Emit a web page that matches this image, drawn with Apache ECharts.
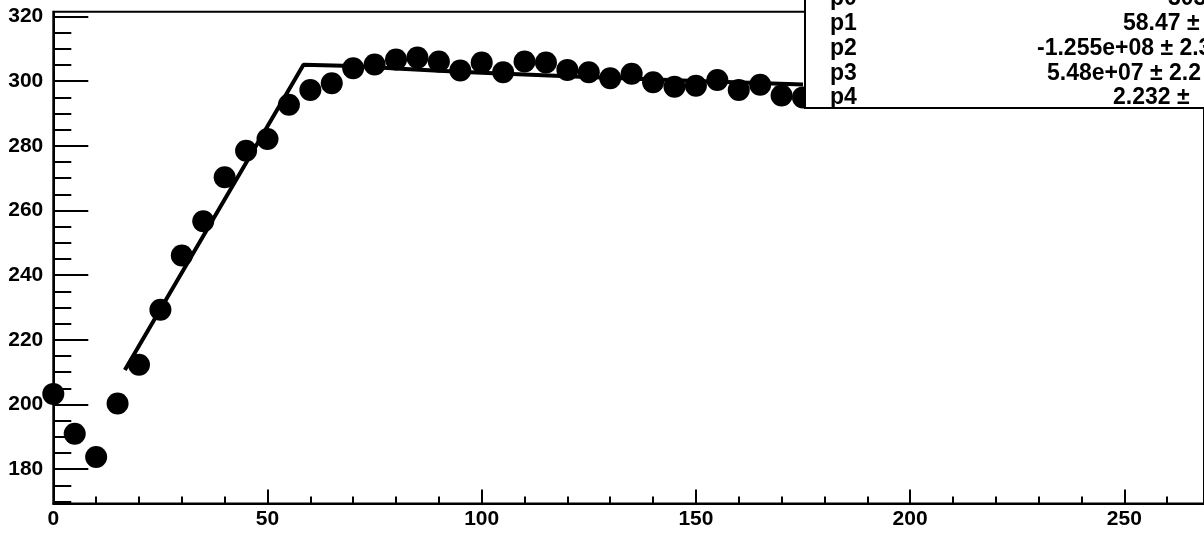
<!DOCTYPE html>
<html><head><meta charset="utf-8">
<script src="https://cdn.jsdelivr.net/npm/echarts@6/dist/echarts.min.js"></script>
<style>html,body{margin:0;padding:0;background:#fff}#c{width:1204px;height:534px}</style>
</head><body><div id="c"></div>
<script>
// measured points
const xValues = [0,5,10,15,20,25,30,35,40,45,50,55,60,65,70,75,80,85,90,95,100,105,110,115,120,125,130,135,140,145,150,155,160,165,170,175];
const yValues = [203.3,191.0,183.8,200.3,212.3,229.3,246.1,256.7,270.3,278.5,282.1,292.7,297.3,299.4,304.0,305.2,306.7,307.3,306.1,303.3,305.8,302.8,306.1,305.8,303.5,302.8,300.9,302.3,299.7,298.3,298.6,300.4,297.3,298.9,295.6,295.0];
// fitted curve
const fitX = [16.7,58.4,70,80,90,100,120,150,175];
const fitY = [210.7,305.1,304.7,303.9,303.2,302.6,301.5,300.1,299.0];
// ticks
const xMajorTicks = [0,50,100,150,200,250];
const xMinorTicks = [10,20,30,40,60,70,80,90,110,120,130,140,160,170,180,190,210,220,230,240,260];
const yMajorTicks = [180,200,220,240,260,280,300,320];
const yMinorTicks = [170,175,185,190,195,205,210,215,225,230,235,245,250,255,265,270,275,285,290,295,305,310,315];
// stats box
const statNames = ['p0','p1','p2','p3','p4'];
const statValues = ['303','58.47 \u00b1','-1.255e+08 \u00b1 2.3','5.48e+07 \u00b1 2.2','2.232 \u00b1'];

const X_MIN = 0, X_MAX = 268.6, Y_MIN = 169.4, Y_MAX = 321.5;
const FONT = 'Liberation Sans, Arial, Helvetica, sans-serif';
const gridRect = {left: 53.3, right: -2, top: 11.7, bottom: 30.5};

const chart = echarts.init(document.getElementById('c'), null, {renderer: 'canvas'});

const statValueX = [1168, 1123, 1037, 1047, 1113];
const statRowY = [-2, 23, 48, 73, 97];
const graphics = [{
  type: 'rect', z: 100,
  shape: {x: 805, y: -10, width: 420, height: 118},
  style: {fill: '#fff', stroke: '#000', lineWidth: 2}
}];
statNames.forEach((n, i) => {
  graphics.push({type: 'text', z: 101, left: 830, top: statRowY[i] - 11,
    style: {text: n, fill: '#000', font: 'bold 23px ' + FONT}});
  graphics.push({type: 'text', z: 101, left: statValueX[i], top: statRowY[i] - 11,
    style: {text: statValues[i], fill: '#000', font: 'bold 23px ' + FONT}});
});

const labelStyle = {color: '#000', fontFamily: FONT, fontWeight: 'bold', fontSize: 21};

chart.setOption({
  animation: false,
  backgroundColor: '#fff',
  grid: [
    Object.assign({show: true, borderColor: '#000', borderWidth: 2, backgroundColor: 'transparent'}, gridRect),
    Object.assign({show: false}, gridRect)
  ],
  xAxis: [
    {type: 'value', gridIndex: 0, min: X_MIN, max: X_MAX,
     axisLine: {show: true, onZero: false, lineStyle: {color: '#000', width: 2}},
     axisTick: {show: true, inside: true, length: 14, customValues: xMajorTicks, lineStyle: {color: '#000', width: 2}},
     axisLabel: Object.assign({show: true, margin: 5, customValues: xMajorTicks}, labelStyle),
     splitLine: {show: false}},
    {type: 'value', gridIndex: 1, min: X_MIN, max: X_MAX,
     axisLine: {show: false},
     axisTick: {show: true, inside: true, length: 7, customValues: xMinorTicks, lineStyle: {color: '#000', width: 2}},
     axisLabel: {show: false},
     splitLine: {show: false}}
  ],
  yAxis: [
    {type: 'value', gridIndex: 0, min: Y_MIN, max: Y_MAX,
     axisLine: {show: true, onZero: false, lineStyle: {color: '#000', width: 2}},
     axisTick: {show: true, inside: true, length: 35, customValues: yMajorTicks, lineStyle: {color: '#000', width: 2}},
     axisLabel: Object.assign({show: true, margin: 10, customValues: yMajorTicks}, labelStyle),
     splitLine: {show: false}},
    {type: 'value', gridIndex: 1, min: Y_MIN, max: Y_MAX,
     axisLine: {show: false},
     axisTick: {show: true, inside: true, length: 18, customValues: yMinorTicks, lineStyle: {color: '#000', width: 2}},
     axisLabel: {show: false},
     splitLine: {show: false}}
  ],
  series: [
    {type: 'line', xAxisIndex: 0, yAxisIndex: 0, data: fitX.map((x, i) => [x, fitY[i]]),
     showSymbol: false, symbol: 'none', lineStyle: {color: '#000', width: 4}, z: 3, silent: true},
    {type: 'scatter', xAxisIndex: 0, yAxisIndex: 0, data: xValues.map((x, i) => [x, yValues[i]]),
     symbol: 'circle', symbolSize: 22, itemStyle: {color: '#000', opacity: 1}, z: 4, silent: true}
  ],
  graphic: graphics
});
</script>
</body></html>
